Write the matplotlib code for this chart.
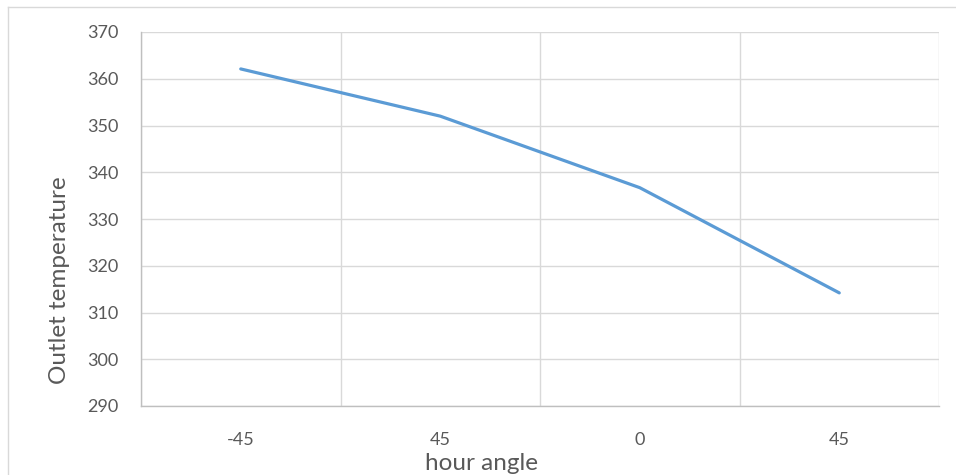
import matplotlib
matplotlib.use("Agg")
import matplotlib.pyplot as plt
from matplotlib.lines import Line2D

categories = ["-45", "45", "0", "45"]
outlet_temp = [362.1, 352.0, 336.7, 314.2]
y_ticks = [290, 300, 310, 320, 330, 340, 350, 360, 370]

W, H = 956, 475
fig = plt.figure(figsize=(W / 100, H / 100), dpi=100)
ax = fig.add_axes([141 / W, 1 - 406 / H, (939 - 141) / W, (406 - 32) / H])

x = list(range(len(categories)))
ax.plot(x, outlet_temp, color="#5b9bd5", lw=2.3, solid_capstyle="round", zorder=3)

ax.set_xlim(-0.5, len(categories) - 0.5)
ax.set_ylim(290, 370)
ax.set_yticks(y_ticks)
ax.set_xticks(x)
ax.set_xticklabels(categories)
ax.set_xticks([i - 0.5 for i in range(len(categories) + 1)], minor=True)

grid_c = "#d9d9d9"
ax.grid(axis="y", which="major", color=grid_c, lw=1.0)
ax.grid(axis="x", which="minor", color=grid_c, lw=1.0)
ax.grid(axis="x", which="major", visible=False)
for s in ["top", "right"]:
    ax.spines[s].set_visible(False)
for s in ["left", "bottom"]:
    ax.spines[s].set_color("#bfbfbf")
    ax.spines[s].set_linewidth(1.0)
ax.tick_params(axis="both", which="both", length=0)
ax.tick_params(axis="x", which="major", pad=19, labelsize=13, labelcolor="#595959")
ax.tick_params(axis="y", which="major", pad=16, labelsize=13, labelcolor="#595959")
for lab in ax.get_xticklabels() + ax.get_yticklabels():
    lab.set_fontfamily("Lato")

fig.text(482 / W, 1 - 463 / H, "hour angle", ha="center", va="center",
         fontsize=17.5, color="#595959", family="Lato")
fig.text(60 / W, 1 - 280 / H, "Outlet temperature", ha="center", va="center",
         rotation=90, fontsize=17.5, color="#595959", family="Lato")

# outer chart border (left and top visible)
fig.add_artist(Line2D([8 / W, 8 / W], [0, 1 - 7 / H], transform=fig.transFigure,
                      color="#d9d9d9", lw=1.0))
fig.add_artist(Line2D([8 / W, 1], [1 - 7 / H, 1 - 7 / H], transform=fig.transFigure,
                      color="#d9d9d9", lw=1.0))

fig.savefig("out.png", dpi=100)
